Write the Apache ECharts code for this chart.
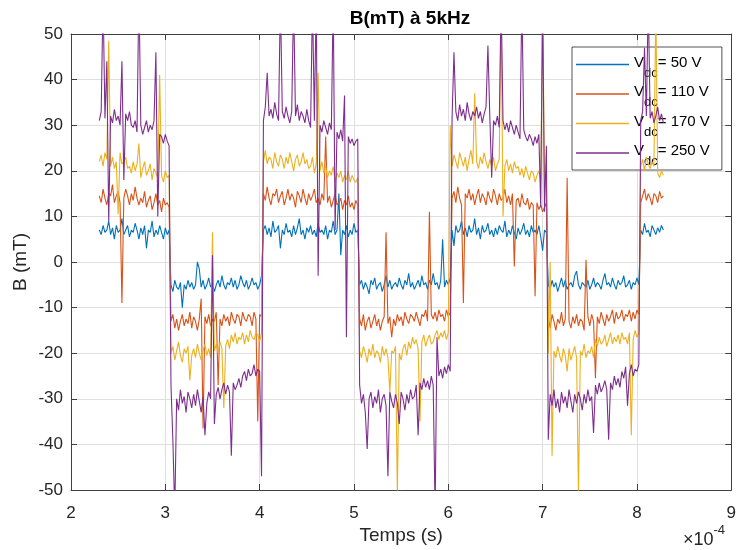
<!DOCTYPE html>
<html>
<head>
<meta charset="utf-8">
<script src="https://cdn.jsdelivr.net/npm/echarts@6/dist/echarts.min.js"></script>
<style>
html,body{margin:0;padding:0;background:#fff;}
#chart{width:739px;height:550px;}
</style>
</head>
<body>
<div id="chart"></div>
<script>
// Sampling grid of the scope record (time in units of 1e-4 s)
const T_START = 2.30;
const T_STEP = 0.02;

const seriesNames = ['Vdc= 50 V', 'Vdc= 110 V', 'Vdc= 170 V', 'Vdc= 250 V'];
const seriesColors = ['#0072BD', '#D95319', '#EDB120', '#7E2F8E'];
const xTicks = [2, 3, 4, 5, 6, 7, 8, 9];
const yTicks = [-50, -40, -30, -20, -10, 0, 10, 20, 30, 40, 50];

// B (mT), one value per sample
const vdc50 = [
  7, 6, 8, 6.5, 7, 9, 6, 7.5, 5, 8,
  6.5, 7, 9.5, 6, 7, 8, 5.5, 7, 6.5, 8.5,
  7, 5, 7.5, 6, 8, 3, 7, 6.5, 9, 5.5,
  7, 6, 8, 6.5, 5, 7.5, 6, 7,
  -5, -6.5, -4, -5.5, -6, -4.5, -10, -5, -6, -4,
  -5.5, -4.5, -6, -5, 0, -1.5, -5.5, -4, -6, -5,
  -3.5, -5.5, -4.5, -6.5, -5, -4, -5.5, -3, -5, -6,
  -4.5, -5, -3.5, -5.5, -4, -6, -5, -3, -4.5, -5.5,
  -4, -6, -5, -3.5, -5, -4.5, -6, -5, -3,
  7, 8, 6, 7.5, 5.5, 9, 6.5, 7, 8, 3,
  7, 6, 8.5, 6.5, 7, 5.5, 8, 6, 7.5, 9.5,
  6, 7, 5, 7.5, 6.5, 8, 6, 7, 5.5, 8.5,
  6.5, 7, 6, 8, 5, 7, 6.5, 9, 6, 7,
  15, 1.5, 7, 6, 8, 5.5, 7, 6, 8.5, 6.5,
  7,
  -5, -4, -6, -4.5, -5.5, -7, -4, -5, -3.5, -6,
  -5, -4.5, -6.5, -5, -3, -5.5, -4, -6, -5, -4.5,
  -5.5, -3.5, -5, -6, -4, -5, -2.5, -5.5, -4.5, -6,
  -5, -4, -5.5, -3, -5, -4.5, -6, -4, -5, -2.5,
  -5, -4.5, -6, -4, 5, -5.5, -4, -5, -3.5,
  7, 3.5, 8, 6.5, 7, 9, 6, 7.5, 5.5, 8,
  6.5, 7, 9.5, 6, 7.5, 5, 8, 6.5, 7, 8.5,
  6, 7, 5.5, 7.5, 6, 8, 7, 6.5, 9, 5.5,
  7, 6, 8, 6.5, 5, 7.5, 6, 7, 8.5, 6,
  7, 5.5, 8, 6.5, 7, 6, 8, 5.5, 2.5, 7,
  6.5,
  -5, -6, -4, -5.5, -4.5, -6.5, -5, -3.5, -5.5, -4,
  -6, -5, -4.5, -5.5, -3, -2, -5, -6, -4.5, -5,
  -5.5, -4, -6, -5, -3.5, -5.5, -4.5, -5, -6, -4,
  -2.5, -5, -4.5, -5.5, -3.5, -5, -6, -4, -5, -4.5,
  -3, -5.5, -5, -4, -6, -4.5, -5, -3.5, -5,
  7, 6, 8.5, 6.5, 7, 5.5, 8, 7, 6, 7.5, 6.5, 8, 7
];

const vdc110 = [
  14.5, 13, 16, 14, 12.5, 15, 14.5, 17, 13, 14.5,
  15.5, 13, -9, 14, 16, 14.5, 12.5, 15, 13.5, 16.5,
  14, 12.5, 14, 13, 15.5, 12, 13.5, 14.5, 11.5, 13,
  15, 12.5, 13.5, 11, 14, 12.5, 13, 12,
  -13, -11.5, -14.5, -12.5, -15, -13, -11.5, -14, -12.5, -13.5,
  -11, -14.5, -12, -13, -15, -12.5, -8, -36.5, -12, -13.5,
  -11.5, -14, -12.5, -13, -11, -27, -12.5, -14, -11.5, -13,
  -12, -14, -11, -12.5, -13.5, -11.5, -12, -14, -11, -12.5,
  -13, -11.5, -12, -14, -11, -12.5, -35, -11.5, -12,
  15, 13.5, 16.5, 14, 12.5, 15, 14.5, 16, 13, 14.5,
  15.5, 12.5, 14, 16, 13.5, 15, 14, 12, 15.5, 14.5,
  13, 16, 14, 12.5, 15, 13.5, 14.5, 16, 13, 14,
  12.5, 15, 13.5, 27.5, 13, 14.5, 12, 13.5, 15, 12.5,
  13, 14, 11.5, 13.5, 12.5, 14.5, 12, 13, 11.5, 13.5,
  12.5,
  -12.5, -14, -11.5, -15, -13, -12, -14.5, -13, -11.5, -14,
  -12.5, -15, -13, -12, 6.5, -13.5, -12, -16.5, -12.5, -14,
  -11.5, -13, -12, -14, -11, -12.5, -13.5, -11.5, -12, -13,
  -11, -12.5, -14, -11.5, -12, -10.5, -13, 11, -11.5, -12.5,
  -11, -13, -10.5, -12, -11.5, -13, -10.5, -12, -11,
  14, 15.5, 13, 16.5, 14, 12.5, -9, 15, 14, 16,
  13.5, 15, 12.5, 14.5, 16, 13, 15, 14, 12.5, 15.5,
  14, 13, 16, 14.5, 12.5, 15, 13.5, 14, 16, 13,
  14.5, 12.5, 15, -1, 13.5, 14, 12, 15, 13, 12.5,
  14, 11.5, 13, 12.5, -7.5, 13, 11.5, 12.5, 11, 12,
  13,
  -12, -14.5, -11.5, -13, -15, -12.5, -13.5, -11, -14, -12.5,
  18.5, -13, -14.5, -12, -13.5, -11.5, -14, -12.5, -13, -15,
  0.5, -12, -14, -11.5, -13, -25.5, -12, -13.5, -11, -12.5,
  -14, -11.5, -13, -12, -10.5, -13.5, -11, -12.5, -12, -10.5,
  -13, -11.5, -12, -10.5, -13, -11, -12.5, -10.5, -11.5,
  13, 14.5, 16, 13.5, 15, 14, 12.5, 15, 14.5, 13, 15.5, 14, 14.5
];

const vdc170 = [
  22, 23.5, 21, 24, 22.5, 48.5, 21, 23, 20.5, 22,
  10.5, 24, 21.5, 22, 23, 20.5, 21, 19.5, 22, 20,
  21.5, 26, 18.5, 20.5, 22, 19, 20, 21.5, 18, 20.5,
  19.5, 18.5, 41, 19, 17.5, 20, 18.5, 19,
  -20, -18.5, -21.5, -19.5, -17.5, -20.5, -22, -19, -20, -18.5,
  -26, -20.5, -19, -21, -18, -20, -21.5, -19.5, -18, -20.5,
  -19, -21, 6.5, -19.5, -18, -20, -17.5, -19, -32, -18.5,
  -17, -19, -16, -17.5, -15.5, -18, -16.5, -17, -15.5, -18,
  -16, -17.5, -15, -16.5, -17, -15.5, -16, -17.5, -15.5,
  22, 24.5, 21.5, 23, 22.5, 20.5, 24, 22, 21, 23.5,
  22.5, 20.5, 23, 21.5, 24, 22, 20, 22.5, 23.5, 21,
  22, 24, 21.5, 22.5, 20.5, 21, 23, 19.5, 21.5, 41.5,
  20, 22, 19.5, 21, 18.5, 20, 19, 21, 17.5, 19.5,
  18.5, 20, 17.5, 19, 18, 20, 17.5, 19, 18, 17.5,
  18.5,
  -19.5, -21, -18.5, -20, -22, -19, -20.5, -18, -21, -19.5,
  -20, -22, -18.5, -20.5, -19, -21, -28.5, -19.5, -20, -18.5,
  -51, -20, -21.5, -19, -18, -20.5, -17.5, -19, -16.5, -18,
  -17, -19, -35, -17.5, -16, -18.5, -17, -16, -18, -17.5,
  -16, -15, -17, -15.5, -16.5, -15, -17, -15.5, 30,
  21, 23.5, 22, 20.5, 24, 22.5, 21, 23, 20, 22.5,
  24.5, 21.5, 37, 22, 20.5, 23, 21.5, 24, 22, 20.5,
  22.5, 21, 23, 20, 21.5, 22.5, 56, 10, 21, 22.5,
  20, 21.5, 19.5, 22, 20.5, 21, 19, 20.5, 18.5, 21,
  19.5, 18, 20, 19.5, 17.5, 19, 20, 18, 56, 18.5,
  19,
  -20, 0, -42.5, -19.5, -21, -18.5, -20.5, -22, -19, -20.5,
  -24, -19, -21.5, -20, -18.5, -21, -51, -19.5, -20.5, -18,
  -21, -19.5, -20, -18.5, -21, -17, -18.5, -16.5, -18, -17.5,
  -16, -18.5, -17, -15.5, -18, -16.5, -17.5, -16, -18, -15.5,
  -17, -16.5, -18, -15.5, -38, -17, -15, -16.5, -15.5,
  21, 22.5, 20, 23, 21.5, 20.5, 22, 21, 56, 19.5, 18.5, 20, 19
];

const vdc250 = [
  31, 33, 58, 31.5, 44, 9, 32, 30.5, 33.5, 31,
  32, 30, 44, 18, 32.5, 31, 33, 30, 29.5, 31,
  28.5, 60, 30, 28, 29.5, 31, 28.5, 30, 29, 31,
  46, 10, 28, 27.5, 26, 28, 26.5, 25.5,
  -27, -39, -55, -30, -32.5, -28, -31, -29.5, -33, -28.5,
  -30, -32, -29, -31.5, -28, -30.5, -33, -29.5, -38, -31,
  -28.5, -30, 1.5, -35.5, -29, -27.5, -30, -28, -26.5, -29,
  -27, -28.5, -42.5, -26.5, -28, -27, -25.5, -27.5, -25, -24,
  -26, -23.5, -25, -24.5, -22.5, -25, -23.5, -24, -47,
  31, 34, 41.5, 32, 33.5, 31.5, 35, 32.5, 31, 58,
  33, 31.5, 34, 32, 30.5, 33, 58, 32, 34.5, 31,
  33, 32, 30.5, 33.5, 31, 29.5, 58, 31, 58, -3,
  30, 28.5, 31, 29.5, 28, 30.5, 29, 58, 7, 28.5,
  27, 29, 26.5, 36.5, -16.5, 27.5, 26, 27, 25.5, 26.5,
  27,
  -27, -31, -29, -33, -41, -30, -28.5, -32, -29.5, -31,
  -28, -33, -30, -29, -31.5, -47, -28.5, -30.5, -32, -29,
  -31, -35.5, -28.5, -30, -32.5, -29, -31, -28, -30, -29.5,
  -27, -38, -26.5, -28, -25.5, -27.5, -26, -28, -25, -27,
  -55, -16.5, -25, -23.5, -25.5, -23, -24.5, -22.5, -24,
  31.5, 46, 33, 31, 34.5, 32, 33.5, 31, 35, 32.5,
  31, 33, 32, 34, 31.5, 33, 30.5, 32.5, 34, 47.5,
  32, 18.5, 31, 30, 32, 29.5, 58, 31, 29, 30.5,
  28.5, 31, 29.5, 28, 30, 28.5, 27, 58, 29, 27.5,
  26.5, 28, 27, 25.5, 27.5, 26, 28, 12, 58, 11,
  25.5,
  -39, -29, -31.5, -28, -32, -30, -33, -28.5, -31, -29.5,
  -32, -28, -30.5, -33, -29, -31, -28.5, -30, -32.5, -29,
  -31, -28, -30.5, -29.5, -37.5, -27, -29, -26.5, -28.5, -27.5,
  -26, -28, -39, -26.5, -28, -25, -27, -25.5, -27.5, -24,
  -25.5, -23, -31.5, -24.5, -22.5, -25, -23.5, -24, -22.5,
  31, 33, 47, 32, 58, 31.5, 33, 30.5, 32, 34, 31, 32.5, 30.5
];

const allValues = [vdc50, vdc110, vdc170, vdc250];

function toPairs(vals) {
  return vals.map((v, i) => [+(T_START + i * T_STEP).toFixed(2), v]);
}

const FONT = '"Liberation Sans", Arial, Helvetica, sans-serif';
const AX = '#404040';

const chart = echarts.init(document.getElementById('chart'), null, { renderer: 'canvas' });

const option = {
  animation: false,
  backgroundColor: '#fff',
  textStyle: { fontFamily: FONT },
  title: {
    text: 'B(mT) à 5kHz',
    left: 405,
    textAlign: 'center',
    top: 4,
    textStyle: { fontFamily: FONT, fontSize: 19, fontWeight: 'bold', color: '#000' }
  },
  grid: { left: 71, right: 2, top: 34, bottom: 59, containLabel: false },
  legend: {
    data: seriesNames.map(n => ({ name: n, icon: 'rect' })),
    orient: 'vertical',
    left: 572,
    top: 47,
    padding: [8, 12, 2, 4],
    itemGap: 5,
    itemWidth: 53,
    itemHeight: 1.5,
    backgroundColor: '#fff',
    borderColor: '#262626',
    borderWidth: 0.8,
    borderRadius: 0,
    selectedMode: false,
    formatter: function (n) {
      return '{v|V}{s|dc}{v|' + n.slice(3) + '}';
    },
    textStyle: {
      fontFamily: FONT,
      color: '#000',
      rich: {
        v: { fontFamily: FONT, fontSize: 15, color: '#000', padding: [0, 0, 4, 0] },
        s: { fontFamily: FONT, fontSize: 13, color: '#000', padding: [17, 0, 0, 0] }
      }
    }
  },
  xAxis: [
    {
      type: 'value', min: 2, max: 9, interval: 1,
      name: 'Temps (s)', nameLocation: 'middle', nameGap: 36, nameMoveOverlap: false,
      nameTextStyle: { fontFamily: FONT, fontSize: 19, color: '#262626' },
      axisLine: { show: true, onZero: false, lineStyle: { color: AX, width: 1 } },
      axisTick: { show: true, inside: true, length: 6, lineStyle: { color: AX } },
      axisLabel: { fontFamily: FONT, fontSize: 17, color: '#262626', margin: 15,
        formatter: v => xTicks.includes(v) ? String(v) : '' },
      splitLine: { show: true, lineStyle: { color: '#dfdfdf', width: 1 } }
    },
    {
      type: 'value', min: 2, max: 9, interval: 1, position: 'top',
      axisLine: { show: true, onZero: false, lineStyle: { color: AX, width: 1 } },
      axisTick: { show: true, inside: true, length: 6, lineStyle: { color: AX } },
      axisLabel: { show: false },
      splitLine: { show: false }
    }
  ],
  yAxis: [
    {
      type: 'value', min: -50, max: 50, interval: 10,
      name: 'B (mT)', nameLocation: 'middle', nameGap: 41, nameMoveOverlap: false,
      nameTextStyle: { fontFamily: FONT, fontSize: 19, color: '#262626' },
      axisLine: { show: true, onZero: false, lineStyle: { color: AX, width: 1 } },
      axisTick: { show: true, inside: true, length: 6, lineStyle: { color: AX } },
      axisLabel: { fontFamily: FONT, fontSize: 17, color: '#262626', margin: 8,
        formatter: v => yTicks.includes(v) ? String(v) : '' },
      splitLine: { show: true, lineStyle: { color: '#dfdfdf', width: 1 } }
    },
    {
      type: 'value', min: -50, max: 50, interval: 10, position: 'right',
      axisLine: { show: true, onZero: false, lineStyle: { color: AX, width: 1 } },
      axisTick: { show: true, inside: true, length: 6, lineStyle: { color: AX } },
      axisLabel: { show: false },
      splitLine: { show: false }
    }
  ],
  graphic: [
    {
      type: 'text',
      x: 683,
      y: 540,
      style: {
        text: '×10{sup|-4}',
        fill: '#262626',
        font: '18px ' + FONT,
        verticalAlign: 'middle',
        align: 'left',
        rich: {
          sup: { fontFamily: FONT, fontSize: 13, fill: '#262626', padding: [0, 0, 20, 0] }
        }
      }
    }
  ],
  series: seriesNames.map((name, k) => ({
    name: name,
    type: 'line',
    xAxisIndex: 0,
    yAxisIndex: 0,
    data: toPairs(allValues[k]),
    showSymbol: false,
    symbol: 'none',
    clip: true,
    color: seriesColors[k],
    lineStyle: { color: seriesColors[k], width: 1.1 },
    emphasis: { disabled: true },
    z: 2 + k
  }))
};

chart.setOption(option);
</script>
</body>
</html>
